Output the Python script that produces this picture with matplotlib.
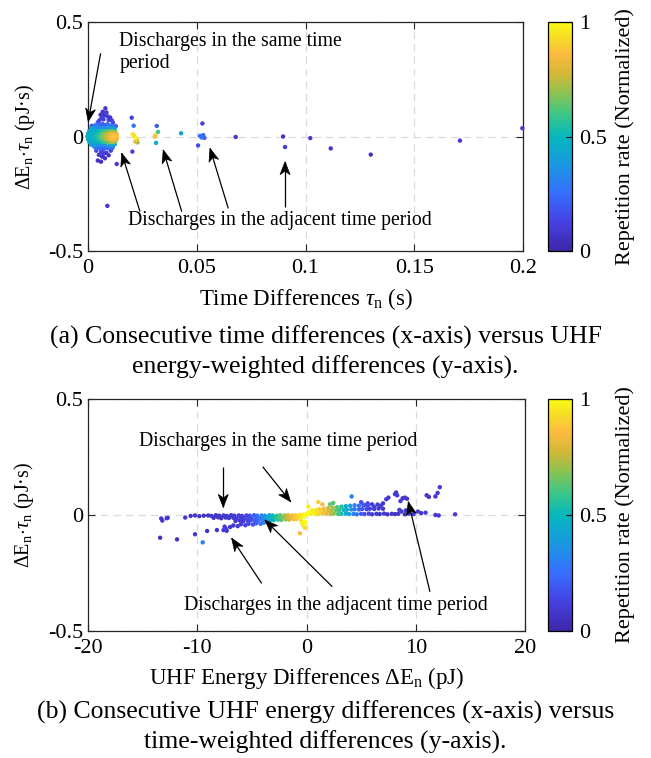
import matplotlib
matplotlib.use('Agg')
import matplotlib.pyplot as plt
import numpy as np
from matplotlib.colors import LinearSegmentedColormap
from matplotlib.cm import ScalarMappable
from matplotlib.patches import Polygon
from matplotlib.transforms import IdentityTransform

# ---------------- data: panel (a) ----------------
# isolated points (time difference s, energy-weighted diff pJ*s, normalized repetition rate)
a_iso_x = [0.1997, 0.171, 0.130, 0.1116, 0.1022, 0.0897, 0.0906, 0.0679, 0.0526, 0.0515,
           0.0522, 0.0530, 0.0535, 0.0506, 0.0428, 0.0316, 0.0322, 0.0307, 0.0310, 0.0313,
           0.0201, 0.0204, 0.0210, 0.0205, 0.0212, 0.0220, 0.0225, 0.0218, 0.0228, 0.0089,
           0.0132, 0.0017]
a_iso_y = [0.036, -0.018, -0.079, -0.052, -0.007, 0.000, -0.046, -0.002, 0.057, 0.003,
           -0.004, 0.006, -0.006, -0.039, 0.014, 0.046, 0.020, 0.000, 0.005, -0.028,
           0.082, -0.066, 0.047, 0.010, 0.004, -0.006, -0.012, -0.022, -0.026, -0.303,
           -0.120, 0.046]
a_iso_c = [0.10, 0.08, 0.06, 0.07, 0.08, 0.06, 0.10, 0.08, 0.12, 0.25,
           0.28, 0.22, 0.20, 0.15, 0.42, 0.20, 0.60, 0.85, 0.88, 0.45,
           0.12, 0.12, 0.28, 0.95, 0.90, 0.98, 0.85, 0.80, 0.70, 0.08,
           0.10, 0.12]

# dense cluster near the origin
a_out_x = [0.0080, 0.0068, 0.0085, 0.0058, 0.0075, 0.0090, 0.0102, 0.0062, 0.0071, 0.0095,
           0.0052, 0.0110, 0.0115, 0.0045, 0.0128,
           0.0060, 0.0072, 0.0085, 0.0050, 0.0065, 0.0095, 0.0078, 0.0045, 0.0060, 0.0070,
           0.0105, 0.0038, 0.0112, 0.0055]
a_out_y = [0.123, 0.108, 0.105, 0.095, 0.092, 0.088, 0.083, 0.080, 0.075, 0.072,
           0.070, 0.070, 0.060, 0.062, 0.045,
           -0.068, -0.075, -0.072, -0.080, -0.088, -0.082, -0.095, -0.105, -0.110, -0.060,
           -0.062, -0.062, -0.050, -0.052]
a_out_c = [0.08, 0.06, 0.10, 0.08, 0.07, 0.10, 0.08, 0.10, 0.12, 0.10,
           0.12, 0.12, 0.15, 0.15, 0.20,
           0.12, 0.10, 0.10, 0.08, 0.07, 0.08, 0.06, 0.07, 0.06, 0.15,
           0.14, 0.15, 0.20, 0.20]

a_shell_x = [0.0030, 0.0042, 0.0054, 0.0066, 0.0078, 0.0090, 0.0102, 0.0114,
             0.0015, 0.0027, 0.0039, 0.0051, 0.0063, 0.0075, 0.0087, 0.0099, 0.0111, 0.0123,
             0.0015, 0.0027, 0.0039, 0.0051, 0.0063, 0.0075, 0.0087, 0.0099, 0.0111, 0.0123,
             0.0030, 0.0042, 0.0054, 0.0066, 0.0078, 0.0090, 0.0102, 0.0114]
a_shell_y = [0.048, 0.052, 0.050, 0.055, 0.050, 0.054, 0.048, 0.042,
             0.036, 0.037, 0.035, 0.038, 0.036, 0.037, 0.035, 0.036, 0.034, 0.033,
             -0.036, -0.038, -0.037, -0.036, -0.039, -0.037, -0.038, -0.036, -0.035, -0.034,
             -0.046, -0.050, -0.048, -0.053, -0.050, -0.052, -0.047, -0.043]
a_shell_c = [0.30, 0.25, 0.22, 0.20, 0.22, 0.25, 0.28, 0.30,
             0.40, 0.38, 0.35, 0.33, 0.32, 0.33, 0.35, 0.38, 0.42, 0.45,
             0.40, 0.38, 0.35, 0.33, 0.32, 0.33, 0.35, 0.38, 0.42, 0.45,
             0.30, 0.25, 0.22, 0.20, 0.22, 0.25, 0.28, 0.30]

a_core_x = [-0.0003, 0.0012, 0.0024, 0.0036, 0.0048, 0.0060, 0.0072, 0.0084, 0.0096, 0.0108, 0.0120, 0.0132,
            0.0000, 0.0012, 0.0024, 0.0036, 0.0048, 0.0060, 0.0072, 0.0084, 0.0096, 0.0108, 0.0120, 0.0132,
            0.0000, 0.0012, 0.0024, 0.0036, 0.0048, 0.0060, 0.0072, 0.0084, 0.0096, 0.0108, 0.0120, 0.0132,
            0.0006, 0.0018, 0.0030, 0.0042, 0.0054, 0.0066, 0.0078, 0.0090, 0.0102, 0.0114, 0.0126,
            0.0006, 0.0018, 0.0030, 0.0042, 0.0054, 0.0066, 0.0078, 0.0090, 0.0102, 0.0114, 0.0126]
a_core_y = [0.000, 0.001, -0.001, 0.000, 0.001, -0.001, 0.000, 0.001, -0.001, 0.000, -0.002, 0.000,
            0.012, 0.011, 0.013, 0.012, 0.011, 0.013, 0.012, 0.011, 0.012, 0.010, 0.009, 0.010,
            -0.012, -0.013, -0.011, -0.012, -0.013, -0.011, -0.012, -0.013, -0.012, -0.014, -0.013, -0.012,
            0.024, 0.023, 0.025, 0.024, 0.023, 0.025, 0.024, 0.022, 0.023, 0.021, 0.020,
            -0.024, -0.025, -0.023, -0.024, -0.025, -0.023, -0.024, -0.026, -0.025, -0.024, -0.022]
a_core_c = [0.47, 0.48, 0.50, 0.53, 0.58, 0.64, 0.70, 0.76, 0.82, 0.86, 0.88, 0.86,
            0.45, 0.46, 0.48, 0.50, 0.55, 0.60, 0.66, 0.72, 0.78, 0.83, 0.85, 0.82,
            0.45, 0.46, 0.48, 0.50, 0.55, 0.60, 0.66, 0.72, 0.78, 0.83, 0.85, 0.82,
            0.42, 0.43, 0.45, 0.47, 0.50, 0.54, 0.58, 0.63, 0.68, 0.72, 0.70,
            0.42, 0.43, 0.45, 0.47, 0.50, 0.54, 0.58, 0.63, 0.68, 0.72, 0.70]

# ---------------- data: panel (b) ----------------
b_iso_x = [-13.4, -11.85, -13.3, -13.2, -12.8, -12.7, -11.1, -10.2, -9.1, -9.5,
           -8.2, -7.6, -7.4, -7.3, -7.5,
           13.6, 11.8, 12.1, 10.9, 10.5, 10.2, 11.0, 11.2, 11.8, 12.0,
           12.2, 8.1, 8.2, 8.3, 7.3, 7.5, 8.8, 9.0, 9.2, 8.6,
           4.13, 1.08, 1.45, 2.15, 2.45, 0.17, -0.6,
           8.4, 8.7, 9.0, 9.4, 9.8, 8.5, 9.1, 6.5, 7.0, 6.2, 6.8, 5.6, 5.0, 5.3,
           -0.4, -0.3, -0.2, -0.1, -0.5, -0.15]
b_iso_y = [-0.098, -0.105, -0.015, -0.024, -0.014, -0.012, -0.011, -0.083, -0.069, -0.118,
           -0.065, -0.065, -0.058, -0.068, -0.050,
           0.003, 0.000, -0.002, 0.010, 0.008, 0.015, 0.085, 0.078, 0.080, 0.095,
           0.120, 0.090, 0.097, 0.085, 0.068, 0.075, 0.072, 0.075, 0.070, 0.060,
           0.080, 0.056, 0.046, 0.046, 0.052, 0.036, -0.079,
           0.005, 0.015, 0.003, 0.006, 0.004, 0.022, 0.020, 0.045, 0.050, 0.035, 0.040, 0.050, 0.055, 0.042,
           -0.035, -0.045, -0.040, -0.030, -0.025, -0.055]
b_iso_c = [0.06, 0.06, 0.08, 0.08, 0.07, 0.08, 0.08, 0.08, 0.07, 0.30,
           0.08, 0.10, 0.10, 0.08, 0.10,
           0.10, 0.08, 0.08, 0.10, 0.08, 0.10, 0.08, 0.08, 0.08, 0.08,
           0.08, 0.08, 0.08, 0.10, 0.10, 0.08, 0.08, 0.08, 0.08, 0.10,
           0.30, 0.90, 0.85, 0.65, 0.62, 0.97, 0.85,
           0.08, 0.08, 0.07, 0.08, 0.08, 0.10, 0.08, 0.10, 0.08, 0.12, 0.10, 0.12, 0.15, 0.15,
           0.97, 0.95, 0.98, 1.00, 0.95, 0.92]

b_left_x = [-10.6, -10.2, -9.8, -9.4, -9.0, -8.7, -8.3, -8.0, -7.6, -7.3, -6.9, -6.6, -6.2, -5.9, -5.5, -5.2,
            -4.8, -4.5, -4.1, -3.8, -3.4, -3.1, -2.7, -2.4, -2.0, -1.7, -1.3, -1.0, -0.6, -0.3, -0.05,
            -8.5, -8.1, -7.8, -7.4, -7.1, -6.7, -6.4, -6.0, -5.7, -5.3, -5.0, -4.6, -4.3, -3.9, -3.6, -3.2,
            -2.9, -2.5, -2.2, -1.8, -1.5, -1.1, -0.8, -0.5, -0.2,
            -6.5, -6.1, -5.8, -5.4, -5.1, -4.7, -4.4, -4.0, -3.7, -3.3, -3.0, -2.6, -2.3, -1.9, -1.6, -1.2, -0.9,
            -7.0, -6.7, -6.3, -6.0, -5.6, -5.3, -4.9, -4.6, -4.2, -3.9, -3.5]
b_left_y = [-0.004, -0.002, -0.005, -0.003, -0.002, -0.004, -0.001, -0.003, -0.002, -0.004, -0.001, -0.003,
            -0.002, -0.004, -0.002, -0.003, -0.001, -0.003, -0.002, -0.003, -0.001, -0.002, -0.003, -0.001,
            -0.002, -0.001, -0.002, -0.001, 0.000, 0.001, 0.002,
            -0.012, -0.010, -0.014, -0.011, -0.013, -0.012, -0.015, -0.013, -0.014, -0.012, -0.015, -0.013,
            -0.014, -0.012, -0.013, -0.012, -0.011, -0.012, -0.010, -0.011, -0.009, -0.010, -0.008, -0.009, -0.007,
            -0.026, -0.024, -0.027, -0.025, -0.023, -0.026, -0.024, -0.022, -0.024, -0.021, -0.022, -0.020,
            -0.021, -0.019, -0.020, -0.018, -0.017,
            -0.052, -0.045, -0.048, -0.040, -0.044, -0.038, -0.041, -0.036, -0.038, -0.033, -0.032]
b_left_c = [0.07, 0.06, 0.08, 0.07, 0.06, 0.08, 0.07, 0.06, 0.08, 0.07, 0.08, 0.09, 0.10, 0.11, 0.13, 0.16,
            0.20, 0.25, 0.31, 0.38, 0.45, 0.50, 0.57, 0.63, 0.71, 0.77, 0.84, 0.89, 0.94, 0.98, 1.00,
            0.07, 0.08, 0.07, 0.08, 0.09, 0.08, 0.10, 0.11, 0.12, 0.14, 0.17, 0.21, 0.27, 0.33, 0.41, 0.48,
            0.54, 0.60, 0.67, 0.74, 0.81, 0.87, 0.92, 0.96, 0.99,
            0.08, 0.09, 0.10, 0.12, 0.15, 0.19, 0.24, 0.30, 0.37, 0.44, 0.50, 0.56, 0.62, 0.70, 0.77, 0.84, 0.88,
            0.08, 0.08, 0.10, 0.10, 0.12, 0.14, 0.17, 0.20, 0.25, 0.30, 0.36]

b_right_x = [0.05, 0.4, 0.8, 1.1, 1.5, 1.8, 2.2, 2.5, 2.9, 3.2, 3.6, 3.9, 4.3, 4.6, 5.0, 5.3, 5.7, 6.0,
             6.4, 6.7, 7.1, 7.4, 7.8, 8.1,
             0.2, 0.6, 0.9, 1.3, 1.6, 2.0, 2.3, 2.7, 3.0, 3.4, 3.7, 4.1, 4.4, 4.8, 5.1, 5.5, 5.8, 6.2, 6.6, 7.0,
             0.5, 0.9, 1.2, 1.6, 2.0, 2.4, 2.8, 3.2, 3.6, 4.0, 4.4, 4.8, 5.2, 5.6, 6.0]
b_right_y = [0.004, 0.005, 0.004, 0.006, 0.005, 0.006, 0.005, 0.006, 0.004, 0.005, 0.006, 0.004, 0.005,
             0.003, 0.005, 0.004, 0.006, 0.003, 0.005, 0.004, 0.006, 0.003, 0.005, 0.004,
             0.012, 0.013, 0.015, 0.016, 0.017, 0.018, 0.019, 0.020, 0.021, 0.022, 0.023, 0.024, 0.025,
             0.024, 0.026, 0.025, 0.027, 0.026, 0.028, 0.027,
             0.020, 0.022, 0.025, 0.027, 0.030, 0.032, 0.034, 0.036, 0.038, 0.040, 0.042, 0.040, 0.044,
             0.042, 0.046]
b_right_c = [1.00, 0.98, 0.95, 0.92, 0.87, 0.82, 0.75, 0.68, 0.60, 0.53, 0.45, 0.38, 0.31, 0.25, 0.20,
             0.16, 0.13, 0.10, 0.09, 0.08, 0.08, 0.07, 0.08, 0.07,
             0.99, 0.97, 0.94, 0.90, 0.85, 0.79, 0.72, 0.64, 0.57, 0.50, 0.42, 0.34, 0.28, 0.22, 0.18,
             0.14, 0.12, 0.10, 0.09, 0.08,
             0.96, 0.93, 0.90, 0.84, 0.77, 0.70, 0.62, 0.54, 0.46, 0.38, 0.30, 0.24, 0.19, 0.15, 0.12]

a_xticks = [0, 0.05, 0.1, 0.15, 0.2]
a_xticklabels = ['0', '0.05', '0.1', '0.15', '0.2']
y_ticks = [-0.5, 0, 0.5]
y_ticklabels = ['-0.5', '0', '0.5']
b_xticks = [-20, -10, 0, 10, 20]
b_xticklabels = ['-20', '-10', '0', '10', '20']
cb_ticks = [0, 0.5, 1]
cb_ticklabels = ['0', '0.5', '1']

# ---------------- style ----------------
plt.rcParams['font.family'] = ['Liberation Serif', 'DejaVu Serif']
plt.rcParams['mathtext.fontset'] = 'custom'
plt.rcParams['mathtext.rm'] = 'Liberation Serif'
plt.rcParams['mathtext.it'] = 'Liberation Serif:italic'
plt.rcParams['axes.unicode_minus'] = False

parula = LinearSegmentedColormap.from_list('parula_like', [
    (0.00, (0.243, 0.150, 0.660)),
    (0.12, (0.275, 0.250, 0.880)),
    (0.25, (0.215, 0.430, 0.995)),
    (0.38, (0.100, 0.600, 0.880)),
    (0.50, (0.020, 0.720, 0.740)),
    (0.60, (0.250, 0.780, 0.520)),
    (0.70, (0.580, 0.760, 0.300)),
    (0.77, (0.820, 0.720, 0.220)),
    (0.86, (0.990, 0.730, 0.250)),
    (0.93, (0.965, 0.860, 0.150)),
    (1.00, (0.977, 0.984, 0.080)),
])

W, H = 651, 758
fig = plt.figure(figsize=(W / 100, H / 100), dpi=100)


def rect(l, t, r, b):
    return [l / W, 1 - b / H, (r - l) / W, (b - t) / H]


ax1 = fig.add_axes(rect(88, 22, 523, 251))
cax1 = fig.add_axes(rect(548, 22, 572, 251))
ax2 = fig.add_axes(rect(88, 399, 525, 631))
cax2 = fig.add_axes(rect(548, 399, 572, 631))

TICK_FS = 16
XLABEL_FS = 16.5
YLABEL_FS = 14.5
ANN_FS = 14.2
CAP_FS = 18.5
CB_LABEL_FS = 16
ylab = r'$\Delta\mathrm{E}_{\mathrm{n}}\!\cdot\!\tau_{\mathrm{n}}$ (pJ·s)'


def draw_scatter(ax, xs, ys, cs):
    x = np.concatenate([np.asarray(v, float) for v in xs])
    y = np.concatenate([np.asarray(v, float) for v in ys])
    c = np.concatenate([np.asarray(v, float) for v in cs])
    order = np.argsort(c, kind='stable')
    ax.scatter(x[order], y[order], c=c[order], cmap=parula, vmin=0, vmax=1,
               s=10, linewidths=0, zorder=3, clip_on=False)


def style_axes(ax, xlim, xticks, xticklabels):
    ax.set_xlim(*xlim)
    ax.set_ylim(-0.5, 0.5)
    ax.set_xticks(xticks)
    ax.set_xticklabels(xticklabels)
    ax.set_yticks(y_ticks)
    ax.set_yticklabels(y_ticklabels)
    ax.set_axisbelow(True)
    ax.grid(True, linestyle=(0, (6, 4)), color='0.86', linewidth=0.9)
    ax.tick_params(direction='in', top=True, right=True, length=5, width=0.8,
                   labelsize=TICK_FS, colors='0.15', labelcolor='black')
    ax.tick_params(axis='x', pad=5.5)
    ax.tick_params(axis='y', pad=3.5)
    for s in ax.spines.values():
        s.set_linewidth(0.9)
        s.set_color('0.15')
    ax.set_ylabel(ylab, fontsize=YLABEL_FS)


def arrow(ax, head, tail, L=13.0, Wd=10.0, notch=0.72):
    """Line from tail to head plus a MATLAB 'vback2'-style notched head."""
    ax.plot([tail[0], head[0]], [tail[1], head[1]], color='black', lw=0.9,
            zorder=5, solid_capstyle='butt')
    p_head = ax.transData.transform(head)
    p_tail = ax.transData.transform(tail)
    d = p_head - p_tail
    u = d / np.hypot(*d)
    n = np.array([-u[1], u[0]])
    pts = np.array([p_head,
                    p_head - L * u + 0.5 * Wd * n,
                    p_head - notch * L * u,
                    p_head - L * u - 0.5 * Wd * n])
    fig.add_artist(Polygon(pts, closed=True, facecolor='black', edgecolor='black',
                           lw=0.5, transform=IdentityTransform(), zorder=6))


# ---------- panel (a) ----------
draw_scatter(ax1, [a_iso_x, a_out_x, a_shell_x, a_core_x],
             [a_iso_y, a_out_y, a_shell_y, a_core_y],
             [a_iso_c, a_out_c, a_shell_c, a_core_c])
style_axes(ax1, (0, 0.2), a_xticks, a_xticklabels)
ax1.yaxis.set_label_coords(-0.118, 0.5)
ax1.set_xlabel(r'Time Differences $\tau_{\mathrm{n}}$ (s)', fontsize=XLABEL_FS)
ax1.xaxis.set_label_coords(0.5, -0.235)
ax1.xaxis.label.set_va('baseline')

ax1.text(0.0144, 0.455, 'Discharges in the same time\nperiod', fontsize=ANN_FS,
         ha='left', va='top', linespacing=1.2, zorder=6)
ax1.text(0.0881, -0.365, 'Discharges in the adjacent time period', fontsize=ANN_FS,
         ha='center', va='center', zorder=6)

# ---------- panel (b) ----------
draw_scatter(ax2, [b_iso_x, b_left_x, b_right_x],
             [b_iso_y, b_left_y, b_right_y],
             [b_iso_c, b_left_c, b_right_c])
style_axes(ax2, (-20, 20), b_xticks, b_xticklabels)
ax2.yaxis.set_label_coords(-0.118, 0.5)
ax2.set_xlabel(r'UHF Energy Differences $\Delta\mathrm{E}_{\mathrm{n}}$ (pJ)', fontsize=XLABEL_FS)
ax2.xaxis.set_label_coords(0.5, -0.228)
ax2.xaxis.label.set_va('baseline')

ax2.text(-2.56, 0.316, 'Discharges in the same time period', fontsize=ANN_FS,
         ha='center', va='center', zorder=6)
ax2.text(2.72, -0.392, 'Discharges in the adjacent time period', fontsize=ANN_FS,
         ha='center', va='center', zorder=6)

# arrows (limits are fixed now, so data->pixel transforms are final)
arrow(ax1, (0.0001, 0.065), (0.0058, 0.363))
arrow(ax1, (0.0155, -0.073), (0.0239, -0.328))
arrow(ax1, (0.0346, -0.059), (0.0431, -0.328))
arrow(ax1, (0.0561, -0.052), (0.0645, -0.314))
arrow(ax1, (0.0906, -0.110), (0.0906, -0.306))
arrow(ax2, (-7.62, 0.033), (-7.62, 0.208))
arrow(ax2, (-1.45, 0.057), (-4.01, 0.208))
arrow(ax2, (-6.85, -0.100), (-4.10, -0.295))
arrow(ax2, (-3.80, -0.022), (2.36, -0.309))
arrow(ax2, (9.32, 0.057), (11.30, -0.331))

# ---------- colorbars ----------
for cax in (cax1, cax2):
    sm = ScalarMappable(cmap=parula, norm=plt.Normalize(0, 1))
    cb = fig.colorbar(sm, cax=cax, ticks=cb_ticks)
    cb.ax.set_yticklabels(cb_ticklabels)
    cb.ax.tick_params(direction='in', length=4, width=0.8, labelsize=TICK_FS, pad=5)
    cb.outline.set_linewidth(0.9)
    cb.set_label('Repetition rate (Normalized)', fontsize=CB_LABEL_FS, labelpad=6)

# ---------- captions ----------
fig.text(0.5, 1 - 337 / H, '(a) Consecutive time differences (x-axis) versus UHF',
         ha='center', va='center', fontsize=CAP_FS)
fig.text(0.5, 1 - 367 / H, 'energy-weighted differences (y-axis).',
         ha='center', va='center', fontsize=CAP_FS)
fig.text(0.5, 1 - 712 / H, '(b) Consecutive UHF energy differences (x-axis) versus',
         ha='center', va='center', fontsize=CAP_FS)
fig.text(0.5, 1 - 742 / H, 'time-weighted differences (y-axis).',
         ha='center', va='center', fontsize=CAP_FS)

fig.savefig('out.png', dpi=100)
